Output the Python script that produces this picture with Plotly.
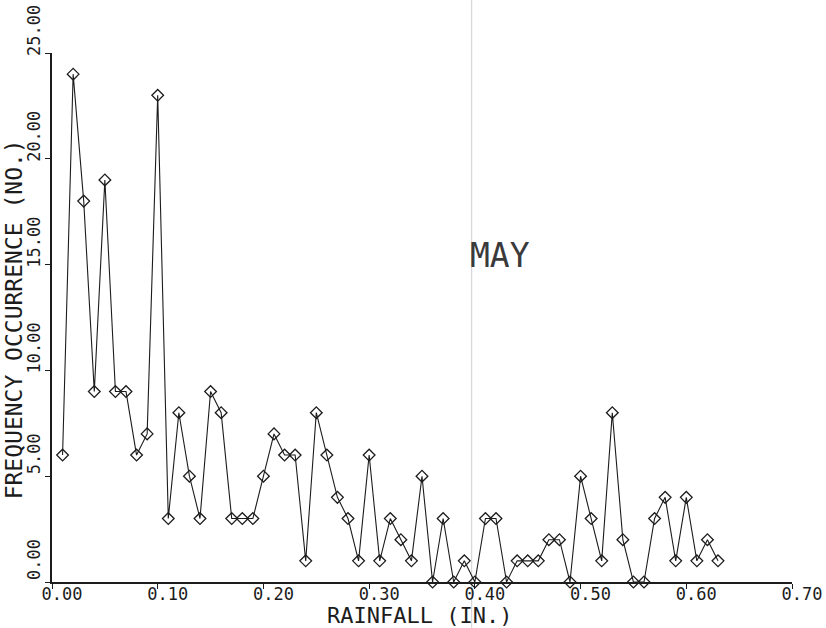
import plotly.graph_objects as go

# Rainfall amount classes (inches) and number of occurrences in each class
rainfall_in = [round(0.01 * i, 2) for i in range(1, 64)]
occurrences = [
    6, 24, 18, 9, 19, 9, 9, 6, 7, 23,
    3, 8, 5, 3, 9, 8, 3, 3, 3, 5,
    7, 6, 6, 1, 8, 6, 4, 3, 1, 6,
    1, 3, 2, 1, 5, 0, 3, 0, 1, 0,
    3, 3, 0, 1, 1, 1, 2, 2, 0, 5,
    3, 1, 8, 2, 0, 0, 3, 4, 1, 4,
    1, 2, 1,
]

x_ticks = [0.0, 0.1, 0.2, 0.3, 0.4, 0.5, 0.6, 0.7]
x_tick_text = ["0.00", "0.10", "0.20", "0.30", "0.40", "0.50", "0.60", "0.70"]
y_ticks = [0, 5, 10, 15, 20, 25]
y_tick_text = ["0.00", "5.00", "10.00", "15.00", "20.00", "25.00"]

x_title = "RAINFALL (IN.)"
y_title = "FREQUENCY OCCURRENCE (NO.)"
month_label = "MAY"
ink = "#1c1c1c"
mono = "DejaVu Sans Mono"

fig = go.Figure()
fig.add_trace(
    go.Scatter(
        x=rainfall_in,
        y=occurrences,
        mode="lines+markers",
        line=dict(color=ink, width=1.1),
        marker=dict(symbol="diamond-open", size=9, color=ink, line=dict(width=1.3, color=ink)),
        cliponaxis=False,
        showlegend=False,
    )
)

# faint vertical rule crossing the whole sheet
fig.add_shape(
    type="line", xref="x", yref="paper",
    x0=0.397, x1=0.397, y0=-0.09, y1=1.11,
    line=dict(color="#cfcfcf", width=1),
    layer="below",
)

fig.add_annotation(
    x=0.424, y=15.45, xref="x", yref="y",
    xanchor="center", yanchor="middle",
    text=month_label, showarrow=False,
    font=dict(family=mono, size=33, color="#3a3a3a"),
)

# axis titles
fig.add_annotation(
    x=0.497, y=-0.0635, xref="paper", yref="paper",
    xanchor="center", yanchor="middle",
    text=x_title, showarrow=False, borderpad=0,
    font=dict(family=mono, size=22, color=ink),
)
fig.add_annotation(
    x=-0.051, y=0.497, xref="paper", yref="paper",
    xanchor="center", yanchor="middle",
    text=y_title, showarrow=False, textangle=-90, borderpad=0,
    font=dict(family=mono, size=23, color=ink),
)

fig.update_layout(
    width=826, height=628,
    margin=dict(l=52, r=34, t=53, b=46),
    paper_bgcolor="white", plot_bgcolor="white",
    font=dict(family=mono, color=ink),
)

fig.update_xaxes(
    range=[0, 0.70], automargin=False,
    tickvals=x_ticks, ticktext=x_tick_text,
    showline=True, linecolor=ink, linewidth=1.6,
    ticks="outside", ticklen=5, tickwidth=1.3, tickcolor=ink,
    showgrid=False, zeroline=False,
    tickfont=dict(family=mono, size=17, color=ink),
    ticklabelshift=10, ticklabelstandoff=-9,
)
fig.update_yaxes(
    range=[0, 25], automargin=False,
    tickvals=y_ticks, ticktext=y_tick_text,
    showline=True, linecolor=ink, linewidth=1.6,
    ticks="outside", ticklen=5, tickwidth=1.3, tickcolor=ink,
    showgrid=False, zeroline=False,
    tickangle=-90,
    tickfont=dict(family=mono, size=17, color=ink),
    ticklabelshift=-20, ticklabelstandoff=-2,
)

fig.write_html("out.html")
